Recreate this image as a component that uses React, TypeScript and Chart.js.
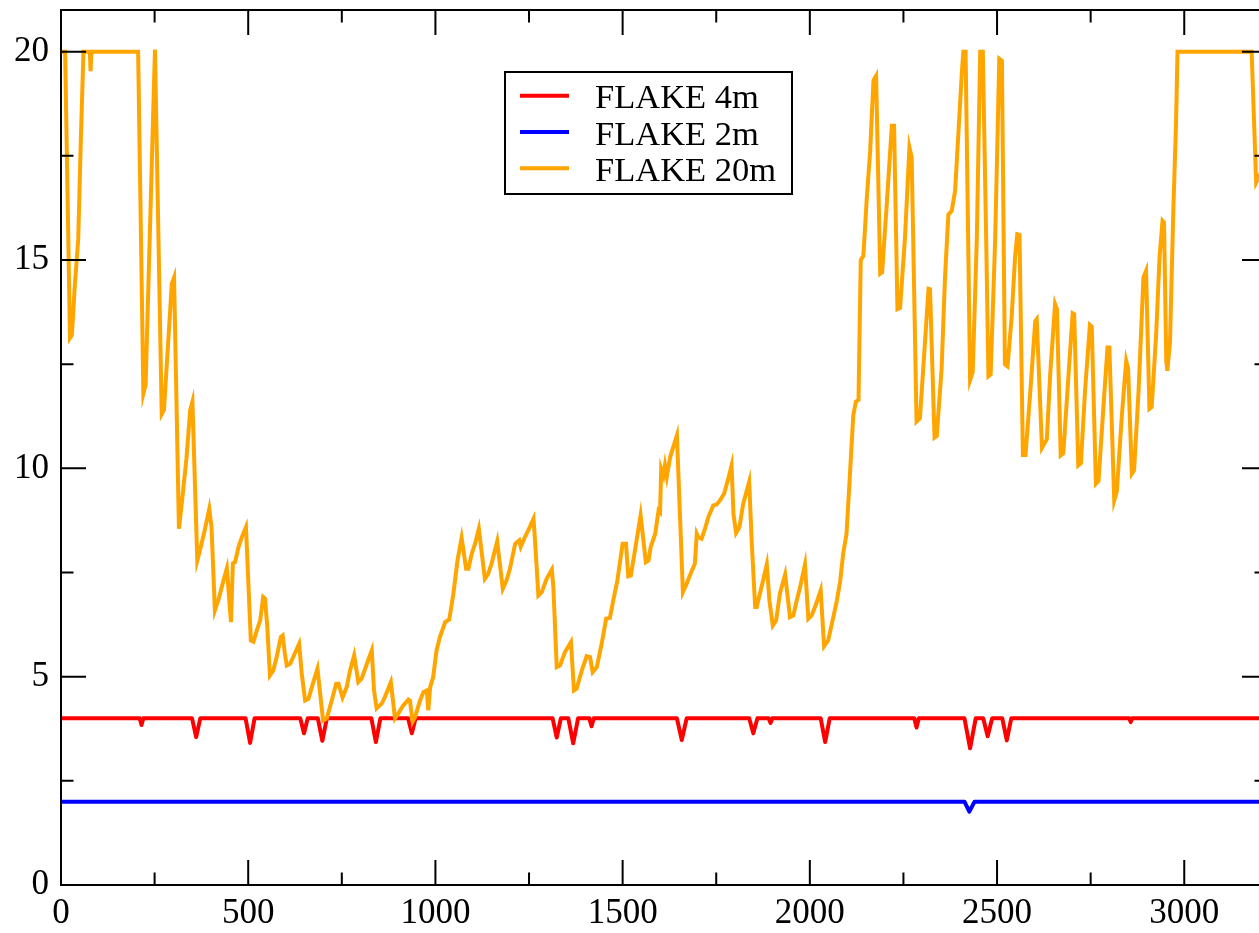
import React, { useEffect, useRef } from "react";
import { Chart, registerables } from "chart.js";

Chart.register(...registerables);

// ---------- data ----------
const seriesLabels = ["FLAKE 4m", "FLAKE 2m", "FLAKE 20m"];
const seriesColors = ["#ff0000", "#0000ff", "#ffa500"];

const xMajorTicks = [0, 500, 1000, 1500, 2000, 2500, 3000];
const xMinorTicks = [250, 750, 1250, 1750, 2250, 2750];
const yMajorTicks = [0, 5, 10, 15, 20];
const yMinorTicks = [2.5, 7.5, 12.5, 17.5];
const xMin = 0;
const xMax = 3221;
const yMin = 0;
const yMax = 21;

// FLAKE 4m (red)
const flake4X = [
  0, 210, 215, 220, 350, 361, 372, 493, 505, 517, 639, 649, 659, 686, 698, 710,
  829, 841, 853, 927, 937, 947, 1313, 1324, 1335, 1355, 1368, 1381, 1411, 1417, 1423,
  1645, 1658, 1671, 1838, 1849, 1860, 1890, 1895, 1900, 2029, 2041, 2053,
  2279, 2285, 2291, 2413, 2428, 2443, 2463, 2475, 2487, 2514, 2526, 2538,
  2853, 2857, 2861, 3221,
];
const flake4Y = [
  4, 4, 3.84, 4, 4, 3.55, 4, 4, 3.41, 4, 4, 3.64, 4, 4, 3.46, 4,
  4, 3.43, 4, 4, 3.64, 4, 4, 3.54, 4, 4, 3.4, 4, 4, 3.81, 4,
  4, 3.48, 4, 4, 3.64, 4, 4, 3.89, 4, 4, 3.43, 4,
  4, 3.78, 4, 4, 3.28, 4, 4, 3.57, 4, 4, 3.47, 4,
  4, 3.91, 4, 4,
];

// FLAKE 2m (blue)
const flake2X = [0, 2413, 2426, 2440, 3221];
const flake2Y = [2, 2, 1.76, 2, 2];

// FLAKE 20m (orange)
const flake20X = [
  0, 11, 24, 29, 37, 46, 53, 60, 77, 79, 81, 206, 220, 226, 251, 269, 275, 296, 302,
  315, 323, 335, 345, 351, 364, 371, 382, 396, 402, 411, 420, 434, 443, 454, 459, 465,
  474, 483, 494, 507, 514, 523, 532, 540, 545, 551, 558, 567, 576, 587, 592, 598, 603,
  612, 636, 643, 652, 661, 670, 685, 700, 710, 723, 735, 741, 752, 763, 772, 783, 794,
  803, 817, 830, 836, 843, 857, 865, 881, 892, 901, 914, 928, 932, 939, 946, 959, 968,
  977, 981, 986, 994, 1003, 1012, 1026, 1037, 1048, 1059, 1070, 1082, 1088, 1097, 1106,
  1116, 1132, 1141, 1150, 1165, 1180, 1190, 1199, 1213, 1224, 1228, 1239, 1248, 1262,
  1266, 1275, 1284, 1297, 1311, 1315, 1324, 1333, 1346, 1362, 1370, 1377, 1391, 1404,
  1413, 1420, 1431, 1444, 1456, 1466, 1475, 1486, 1500, 1509, 1515, 1522, 1533, 1548,
  1562, 1569, 1575, 1587, 1596, 1600, 1603, 1609, 1613, 1618, 1627, 1645, 1661, 1671,
  1685, 1693, 1698, 1702, 1711, 1720, 1729, 1742, 1751, 1760, 1771, 1782, 1791, 1796,
  1803, 1812, 1822, 1838, 1845, 1854, 1858, 1871, 1885, 1892, 1901, 1910, 1920, 1934,
  1947, 1956, 1965, 1974, 1987, 1996, 2005, 2017, 2029, 2038, 2049, 2063, 2072, 2081,
  2089, 2098, 2107, 2116, 2123, 2130, 2136, 2143, 2152, 2161, 2170, 2177, 2188, 2193,
  2205, 2219, 2225, 2234, 2241, 2254, 2266, 2272, 2285, 2294, 2305, 2317, 2321, 2333,
  2339, 2352, 2361, 2370, 2379, 2388, 2397, 2406, 2410, 2416, 2428, 2435, 2446, 2455,
  2462, 2471, 2477, 2483, 2495, 2506, 2513, 2521, 2528, 2539, 2548, 2554, 2560, 2569,
  2576, 2588, 2602, 2606, 2620, 2633, 2642, 2655, 2660, 2670, 2677, 2691, 2702, 2706,
  2717, 2724, 2735, 2748, 2753, 2764, 2771, 2784, 2795, 2800, 2813, 2820, 2833, 2845,
  2850, 2860, 2866, 2878, 2891, 2898, 2907, 2913, 2925, 2934, 2942, 2946, 2952, 2955,
  2962, 2971, 2978, 2982, 3180, 3192, 3205,
];
const flake20Y = [
  20, 20, 13.13, 13.2, 14.4, 15.5, 17.9, 20, 20, 19.53, 20, 20, 11.79, 12.0, 20.05, 11.3, 11.4, 14.43, 14.58,
  8.55, 9.2, 10.23, 11.4, 11.6, 7.79, 8.03, 8.44, 9.03, 8.59, 6.59, 6.83, 7.31, 7.6, 6.31, 7.72, 7.75,
  8.11, 8.35, 8.59, 5.87, 5.84, 6.11, 6.35, 6.91, 6.87, 6.19, 5.03, 5.15, 5.47, 5.95, 5.99, 5.55, 5.27,
  5.31, 5.79, 5.07, 4.43, 4.47, 4.75, 5.19, 3.95, 4.0, 4.43, 4.83, 4.83, 4.5, 4.75, 5.15, 5.51, 4.87,
  4.95, 5.31, 5.63, 4.67, 4.24, 4.36, 4.51, 4.87, 4.0, 4.12, 4.31, 4.45, 4.43, 3.92, 4.04, 4.43, 4.63,
  4.67, 4.19, 4.75, 4.99, 5.63, 5.95, 6.31, 6.37, 6.99, 7.79, 8.33, 7.59, 7.59, 7.95, 8.19,
  8.55, 7.35, 7.47, 7.71, 8.25, 7.11, 7.31, 7.59, 8.19, 8.27, 8.12, 8.35, 8.51, 8.79,
  8.27, 6.95, 7.03, 7.35, 7.57, 7.15, 5.23, 5.27, 5.59, 5.83, 4.67, 4.71, 5.15, 5.49,
  5.47, 5.11, 5.23, 5.79, 6.39, 6.41, 6.83, 7.31, 8.19, 8.19, 7.41, 7.43, 8.03, 8.87,
  7.75, 7.79, 8.11, 8.43, 8.99, 8.95, 9.99, 9.83, 10.07, 9.8, 10.27, 10.79, 7.03, 7.23,
  7.55, 7.71, 8.43, 8.35, 8.31, 8.55, 8.83, 9.11, 9.13, 9.23, 9.39, 9.75, 10.07, 8.91,
  8.45, 8.59, 9.15, 9.68, 8.19, 6.67, 6.67, 7.15, 7.69, 6.83, 6.23, 6.35, 6.99, 7.45,
  6.43, 6.47, 6.83, 7.15, 7.69, 6.39, 6.47, 6.75, 7.07, 5.73, 5.87, 6.44, 6.82, 7.29,
  7.95, 8.43, 9.84, 11.27, 11.6, 11.64, 15.0, 15.1, 16.47, 17.6, 19.31, 19.42, 14.67, 14.7,
  16.28, 18.22, 18.22, 13.82, 13.85, 15.52, 17.7, 17.46, 11.12, 11.2, 12.68, 14.31, 14.3, 10.74,
  10.78, 12.4, 14.58, 16.09, 16.18, 16.66, 18.08, 19.5, 20, 20, 12.12, 12.31, 15.52, 20,
  20, 15.5, 12.21, 12.25, 15.5, 19.83, 19.78, 12.5, 12.45, 13.63, 15.05, 15.62, 15.6, 10.32,
  10.32, 11.74, 13.53, 13.58, 10.49, 10.7, 12.26, 13.94, 13.82, 10.31, 10.36, 12.26, 13.72, 13.7,
  10.07, 10.12, 11.86, 13.44, 13.4, 9.63, 9.7, 11.46, 12.9, 12.9, 9.23, 9.45, 11.23, 12.58,
  12.4, 9.87, 9.95, 11.86, 14.58, 14.74, 11.43, 11.47, 13.22, 15.06, 15.94, 15.9, 12.58, 12.34,
  13.06, 16.26, 18.26, 20, 20, 16.86, 17.1,
];

// ---------- layout / style ----------
const FONT_FAMILY = "'Liberation Serif', 'Times New Roman', serif";
const CANVAS_W = 1275;
const CANVAS_H = 933;
const MAJOR_LEN = 25;
const MINOR_LEN = 12.5;
const LINE_W = 4;

const toPoints = (xs: number[], ys: number[]) => xs.map((x, i) => ({ x, y: ys[i] }));

const framePlugin = {
  id: "frameTicks",
  afterDatasetsDraw(chart: any) {
    const { ctx, chartArea: a, scales } = chart;
    const xs = scales.x;
    const ys = scales.y;
    ctx.save();
    ctx.strokeStyle = "#000";
    ctx.lineWidth = 2;
    ctx.lineCap = "butt";
    ctx.beginPath();
    const xTick = (v: number, len: number) => {
      const p = xs.getPixelForValue(v);
      ctx.moveTo(p, a.bottom);
      ctx.lineTo(p, a.bottom - len);
      ctx.moveTo(p, a.top);
      ctx.lineTo(p, a.top + len);
    };
    const yTick = (v: number, len: number) => {
      const p = ys.getPixelForValue(v);
      ctx.moveTo(a.left, p);
      ctx.lineTo(a.left + len, p);
      ctx.moveTo(a.right, p);
      ctx.lineTo(a.right - len, p);
    };
    xMajorTicks.forEach((v) => xTick(v, MAJOR_LEN));
    xMinorTicks.forEach((v) => xTick(v, MINOR_LEN));
    yMajorTicks.forEach((v) => yTick(v, MAJOR_LEN));
    yMinorTicks.forEach((v) => yTick(v, MINOR_LEN));
    ctx.stroke();
    ctx.strokeRect(a.left, a.top, a.right - a.left, a.bottom - a.top);
    ctx.restore();
  },
};

const legendPlugin = {
  id: "boxLegend",
  afterDraw(chart: any) {
    const { ctx } = chart;
    const left = 505;
    const top = 72;
    const w = 287;
    const h = 122;
    const rowH = 36.3;
    const firstRow = 95.7;
    ctx.save();
    ctx.fillStyle = "#fff";
    ctx.fillRect(left, top, w, h);
    ctx.strokeStyle = "#000";
    ctx.lineWidth = 2;
    ctx.strokeRect(left, top, w, h);
    ctx.font = `34.5px ${FONT_FAMILY}`;
    ctx.textBaseline = "alphabetic";
    ctx.textAlign = "left";
    chart.data.datasets.forEach((ds: any, i: number) => {
      const yy = firstRow + i * rowH;
      ctx.strokeStyle = ds.borderColor;
      ctx.lineWidth = LINE_W;
      ctx.beginPath();
      ctx.moveTo(520, yy);
      ctx.lineTo(569, yy);
      ctx.stroke();
      ctx.fillStyle = "#000";
      ctx.fillText(ds.label, 595, yy + 12.5);
    });
    ctx.restore();
  },
};

export default function App() {
  const ref = useRef<HTMLCanvasElement | null>(null);

  useEffect(() => {
    document.body.style.margin = "0";
    document.body.style.overflow = "hidden";
    const canvas = ref.current;
    if (!canvas) return;
    const tickFont = { family: FONT_FAMILY, size: 35 };
    const chart = new Chart(canvas, {
      type: "line",
      data: {
        datasets: [
          {
            label: seriesLabels[0],
            data: toPoints(flake4X, flake4Y),
            borderColor: seriesColors[0],
            borderWidth: LINE_W,
            pointRadius: 0,
            tension: 0,
            borderJoinStyle: "round",
            order: 1,
          },
          {
            label: seriesLabels[1],
            data: toPoints(flake2X, flake2Y),
            borderColor: seriesColors[1],
            borderWidth: LINE_W,
            pointRadius: 0,
            tension: 0,
            borderJoinStyle: "round",
            order: 2,
          },
          {
            label: seriesLabels[2],
            data: toPoints(flake20X, flake20Y),
            borderColor: seriesColors[2],
            borderWidth: LINE_W,
            pointRadius: 0,
            tension: 0,
            order: 0,
          },
        ],
      },
      options: {
        animation: false,
        responsive: false,
        devicePixelRatio: 1,
        events: [],
        layout: { padding: { top: 10, right: CANVAS_W - 1267, left: 0, bottom: 0 } },
        plugins: { legend: { display: false }, tooltip: { enabled: false } },
        scales: {
          x: {
            type: "linear",
            min: xMin,
            max: xMax,
            grid: { display: false, drawTicks: false },
            border: { display: false },
            afterBuildTicks: (s: any) => {
              s.ticks = xMajorTicks.map((v) => ({ value: v }));
            },
            afterFit: (s: any) => {
              s.height = CANVAS_H - 885;
              s.paddingLeft = 0;
              s.paddingRight = 0;
            },
            ticks: {
              color: "#000",
              font: tickFont,
              padding: 8,
              maxRotation: 0,
              autoSkip: false,
              callback: (v: any) => String(v),
            },
          },
          y: {
            type: "linear",
            min: yMin,
            max: yMax,
            grid: { display: false, drawTicks: false },
            border: { display: false },
            afterBuildTicks: (s: any) => {
              s.ticks = yMajorTicks.map((v) => ({ value: v }));
            },
            afterFit: (s: any) => {
              s.width = 61;
              s.paddingTop = 0;
              s.paddingBottom = 0;
            },
            ticks: {
              color: "#000",
              font: tickFont,
              padding: 12,
              autoSkip: false,
              callback: (v: any) => String(v),
            },
          },
        },
      },
      plugins: [framePlugin, legendPlugin],
    } as any);
    return () => chart.destroy();
  }, []);

  return (
    <div
      style={{
        position: "fixed",
        left: 0,
        top: 0,
        width: 1259,
        height: 933,
        overflow: "hidden",
        background: "#fff",
      }}
    >
      <canvas
        ref={ref}
        width={CANVAS_W}
        height={CANVAS_H}
        style={{ width: CANVAS_W, height: CANVAS_H, display: "block" }}
      />
    </div>
  );
}
